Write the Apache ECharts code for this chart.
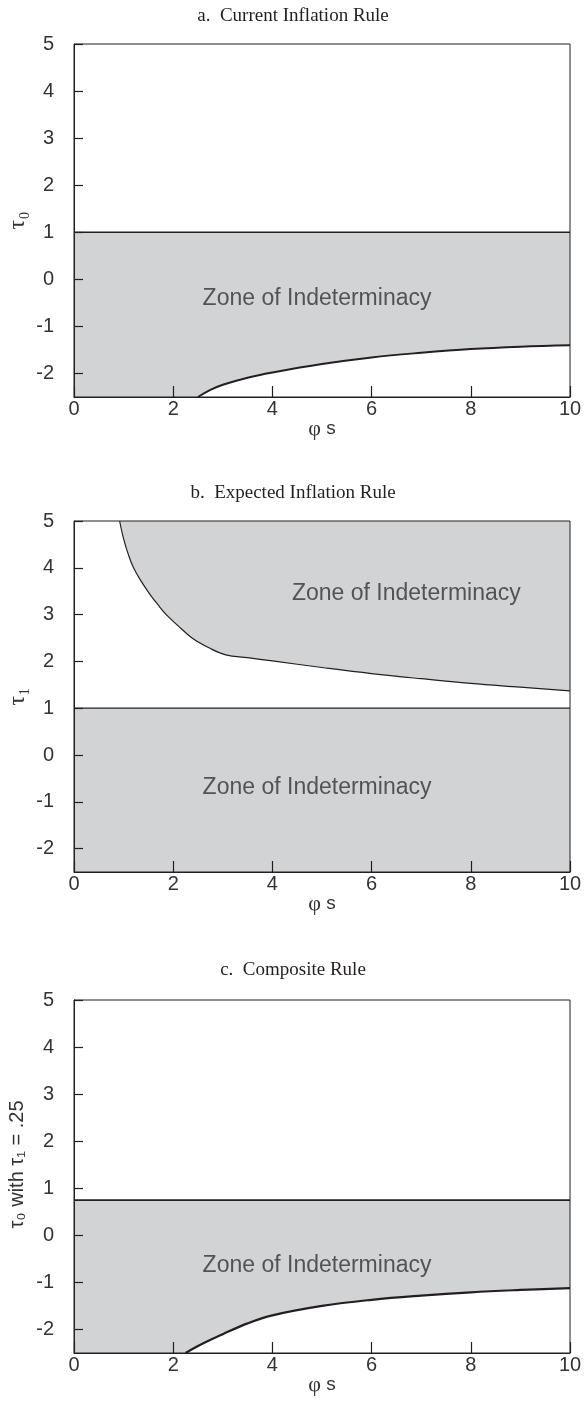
<!DOCTYPE html>
<html>
<head>
	<meta charset="UTF-8">
	<script src="https://cdn.jsdelivr.net/npm/echarts@6/dist/echarts.min.js"></script>
	<title></title>
	<style>body{margin:0;background:#fff;}</style>
</head>
<body>
	<div id="main" style="height:1407px;width:586px;"></div>
	<script type="text/javascript">
        // tick values
        var xTicks = [0, 2, 4, 6, 8, 10];
        var yTicks = [-2, -1, 0, 1, 2, 3, 4, 5];

        var titles = ['a.  Current Inflation Rule', 'b.  Expected Inflation Rule', 'c.  Composite Rule'];
        var yNames = ['τ₀', 'τ₁', 'τ₀ with τ₁ = .25'];

        // panel a
        var lineA = 1;
        var curveAX = [2.5, 2.75, 3, 3.5, 4, 5, 6, 7, 8, 9, 10];
        var curveAY = [-2.5, -2.35, -2.24, -2.09, -1.98, -1.8, -1.66, -1.56, -1.48, -1.43, -1.4];
        var zoneA = [4.9, -0.4];

        // panel b
        var lineB = 1;
        var curveBX = [0.92, 1.0, 1.1, 1.2, 1.35, 1.52, 1.7, 1.86, 2.1, 2.38, 2.72, 3.06, 3.5, 4, 5, 6, 7, 8, 9, 10];
        var curveBY = [5, 4.62, 4.27, 4.0, 3.72, 3.45, 3.2, 3.0, 2.76, 2.5, 2.29, 2.14, 2.08, 2.01, 1.87, 1.74, 1.63, 1.53, 1.45, 1.37];
        var zoneB1 = [6.7, 3.45];
        var zoneB2 = [4.9, -0.7];

        // panel c
        var lineC = 0.75;
        var curveCX = [2.25, 2.5, 3, 3.5, 4, 5, 6, 7, 8, 9, 10];
        var curveCY = [-2.5, -2.35, -2.1, -1.87, -1.7, -1.5, -1.37, -1.28, -1.21, -1.16, -1.12];
        var zoneC = [4.9, -0.65];

        var ink = '#231f20';
        var gray = '#d2d3d5';
        var sans = 'Liberation Sans';
        var serif = 'Liberation Serif';

        function zip(xs, ys) {
            var out = [];
            for (var i = 0; i < xs.length; i++) out.push([xs[i], ys[i]]);
            return out;
        }

        var grids = [
            {top: 44, height: 353},
            {top: 521, height: 351},
            {top: 1000, height: 353}
        ];
        var titleTops = [2, 479, 956];

        var option = {
            animation: false,
            backgroundColor: '#fff',
            title: [],
            grid: [],
            xAxis: [],
            yAxis: [],
            series: []
        };

        for (var i = 0; i < 3; i++) {
            option.title.push({
                text: titles[i], left: 'center', top: titleTops[i],
                textStyle: {fontFamily: serif, fontSize: 19, fontWeight: 'normal', color: ink}
            });
            option.grid.push({
                left: 74, right: 16, top: grids[i].top, height: grids[i].height,
                outerBoundsMode: 'none', containLabel: false,
                show: true, borderColor: ink, borderWidth: 1, backgroundColor: 'transparent', z: 10
            });
            option.xAxis.push({
                type: 'value', gridIndex: i, min: 0, max: 10, z: 10,
                name: '{p|φ} s', nameLocation: 'middle', nameGap: 21, nameMoveOverlap: false,
                nameTextStyle: {fontFamily: sans, fontSize: 19, color: '#333',
                    rich: {p: {fontFamily: serif, fontSize: 22, color: '#333'}}},
                axisLine: {show: true, onZero: false, lineStyle: {color: ink, width: 1}},
                axisTick: {show: true, inside: true, length: 11, customValues: xTicks, lineStyle: {color: ink, width: 1.2}},
                axisLabel: {customValues: xTicks, margin: 2, fontFamily: sans, fontSize: 20, color: '#333'},
                splitLine: {show: false}
            });
            option.yAxis.push({
                type: 'value', gridIndex: i, min: -2.5, max: 5, z: 10,
                name: yNames[i], nameLocation: 'middle', nameRotate: 90, nameMoveOverlap: false,
                nameGap: i == 2 ? 47 : 44,
                nameTextStyle: {fontFamily: i == 2 ? sans : serif, fontSize: i == 2 ? 20 : 24, color: '#333',
                    padding: i == 2 ? [0, 0, 0, 24] : 0},
                axisLine: {show: true, onZero: false, lineStyle: {color: ink, width: 1}},
                axisTick: {show: true, inside: true, length: 9, customValues: yTicks, lineStyle: {color: ink, width: 1.2}},
                axisLabel: {customValues: yTicks, margin: 20, fontFamily: sans, fontSize: 20, color: '#333'},
                splitLine: {show: false}
            });
        }

        function band(idx, y, w) {
            return {
                type: 'line', xAxisIndex: idx, yAxisIndex: idx,
                data: [[0, y], [10, y]], symbol: 'none',
                lineStyle: {color: ink, width: w},
                areaStyle: {color: gray, origin: 'start', opacity: 1}
            };
        }
        function curve(idx, xs, ys, fill, origin, w) {
            return {
                type: 'line', xAxisIndex: idx, yAxisIndex: idx, smooth: 0.4,
                data: zip(xs, ys), symbol: 'none',
                lineStyle: {color: ink, width: w},
                areaStyle: {color: fill, origin: origin, opacity: 1}
            };
        }
        function zone(idx, pos) {
            return {
                type: 'scatter', xAxisIndex: idx, yAxisIndex: idx, silent: true, z: 5,
                data: [pos], symbol: 'circle', symbolSize: 10,
                itemStyle: {color: 'rgba(0,0,0,0)'},
                label: {show: true, position: 'inside', formatter: 'Zone of Indeterminacy',
                    fontFamily: sans, fontSize: 23, color: '#333'}
            };
        }

        option.series.push(band(0, lineA, 1.6));
        option.series.push(curve(0, curveAX, curveAY, '#fff', 'start', 2));
        option.series.push(zone(0, zoneA));

        option.series.push(band(1, lineB, 1.2));
        option.series.push(curve(1, curveBX, curveBY, gray, 'end', 1.2));
        option.series.push(zone(1, zoneB1));
        option.series.push(zone(1, zoneB2));

        option.series.push(band(2, lineC, 1.8));
        option.series.push(curve(2, curveCX, curveCY, '#fff', 'start', 2.2));
        option.series.push(zone(2, zoneC));

        var myChart = echarts.init(document.getElementById('main'));
        myChart.setOption(option);
	</script>
</body>
</html>
